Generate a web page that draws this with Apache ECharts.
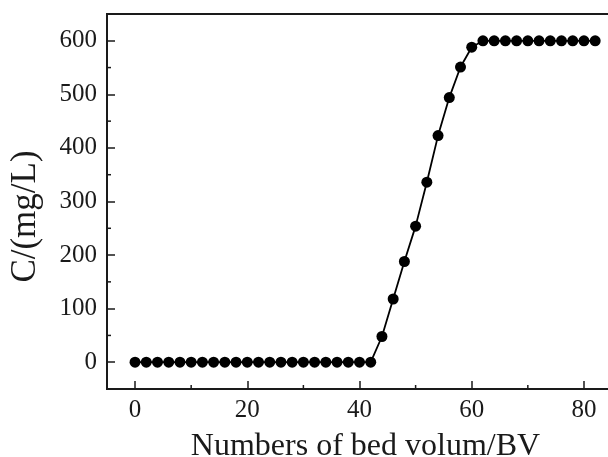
<!DOCTYPE html>
<html>
<head>
<meta charset="utf-8">
<script src="https://cdn.jsdelivr.net/npm/echarts@6/dist/echarts.min.js"></script>
<style>
  html, body { margin: 0; padding: 0; background: #fff; }
  #chart { width: 608px; height: 457px; }
</style>
</head>
<body>
<div id="chart"></div>
<script>
// Bed volumes passed through the column (BV)
const bedVolumes = [0, 2, 4, 6, 8, 10, 12, 14, 16, 18, 20, 22, 24, 26, 28, 30, 32, 34, 36, 38, 40, 42,
                    44, 46, 48, 50, 52, 54, 56, 58, 60,
                    62, 64, 66, 68, 70, 72, 74, 76, 78, 80, 82];
// Effluent concentration (mg/L)
const concentration = [0, 0, 0, 0, 0, 0, 0, 0, 0, 0, 0, 0, 0, 0, 0, 0, 0, 0, 0, 0, 0, 0,
                       48, 118, 188, 254, 336, 423, 494, 551, 588,
                       600, 600, 600, 600, 600, 600, 600, 600, 600, 600, 600];

const xTicks = [0, 20, 40, 60, 80];
const yTicks = [0, 100, 200, 300, 400, 500, 600];
const minorX = [10, 30, 50, 70];
const minorY = [50, 150, 250, 350, 450, 550];

const points = bedVolumes.map((v, i) => [v, concentration[i]]);

const font = '"Liberation Serif", "DejaVu Serif", serif';
const ink = '#1a1a1a';

const chart = echarts.init(document.getElementById('chart'), null, { renderer: 'canvas' });
chart.setOption({
  animation: false,
  backgroundColor: '#fff',
  grid: {
    left: 107, top: 14, width: 505, height: 375,
    outerBoundsMode: 'none', containLabel: false,
    show: true, borderColor: ink, borderWidth: 2, backgroundColor: 'transparent'
  },
  xAxis: {
    type: 'value', min: -5, max: 85, interval: 5,
    name: 'Numbers of bed volum/BV',
    nameLocation: 'middle', nameGap: 42,
    nameTextStyle: { fontFamily: font, fontSize: 32, color: ink, padding: [0, 0, 0, 12] },
    axisLine: { show: true, onZero: false, lineStyle: { color: ink, width: 2 } },
    axisTick: { show: true, inside: true, length: 8, lineStyle: { color: ink, width: 1.5 },
      customValues: xTicks },
    axisLabel: { fontFamily: font, fontSize: 25, color: ink, margin: 9,
      customValues: xTicks },
    splitLine: { show: false }
  },
  yAxis: {
    type: 'value', min: -50, max: 650, interval: 50,
    name: 'C/(mg/L)',
    nameLocation: 'middle', nameGap: 64, nameRotate: 90,
    nameTextStyle: { fontFamily: font, fontSize: 35, color: ink, padding: [0, 30, 0, 0] },
    axisLine: { show: true, onZero: false, lineStyle: { color: ink, width: 2 } },
    axisTick: { show: true, inside: true, length: 8, lineStyle: { color: ink, width: 1.5 },
      customValues: yTicks },
    axisLabel: { fontFamily: font, fontSize: 25, color: ink, margin: 10,
      customValues: yTicks },
    splitLine: { show: false }
  },
  series: [
    {
      type: 'line',
      data: points,
      symbol: 'circle', symbolSize: 11,
      itemStyle: { color: '#000' },
      lineStyle: { color: '#000', width: 1.8 },
      z: 3
    }
  ]
});

// Minor ticks: half-way between labelled ticks, inward and shorter
const g = [];
minorX.forEach(v => {
  const p = chart.convertToPixel({ gridIndex: 0 }, [v, -50]);
  g.push({ type: 'line', shape: { x1: p[0], y1: p[1], x2: p[0], y2: p[1] - 4 },
    style: { stroke: ink, lineWidth: 1.5 } });
});
minorY.forEach(v => {
  const p = chart.convertToPixel({ gridIndex: 0 }, [-5, v]);
  g.push({ type: 'line', shape: { x1: p[0], y1: p[1], x2: p[0] + 4, y2: p[1] },
    style: { stroke: ink, lineWidth: 1.5 } });
});
chart.setOption({ graphic: g });
</script>
</body>
</html>
